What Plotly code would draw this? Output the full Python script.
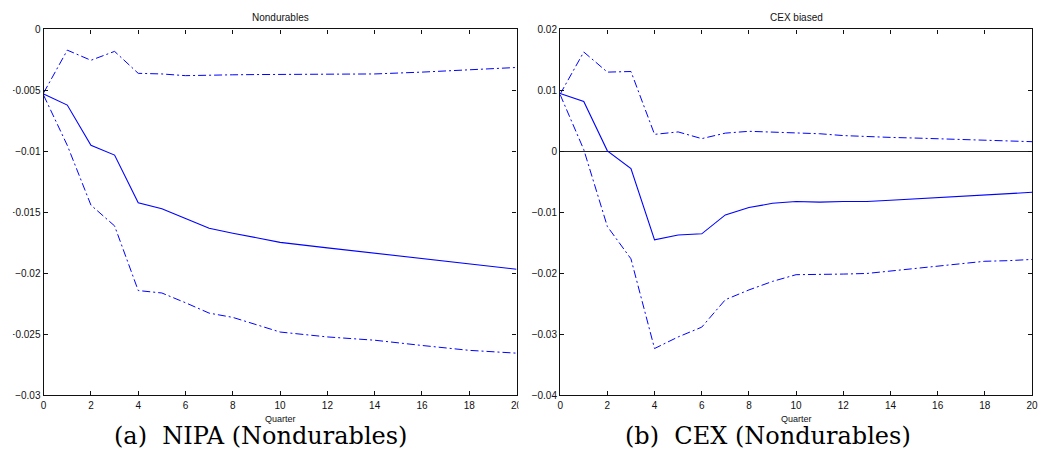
import plotly.graph_objects as go

W, H = 1046, 463

# Panel (a) NIPA (Nondurables)
nipa_q = [0, 1, 2, 3, 4, 5, 6, 7, 8, 9, 10, 12, 14, 16, 18, 20]
nipa_mid = [-0.0053, -0.0062, -0.0095, -0.0103, -0.0142, -0.0147, -0.0155, -0.0163,
            -0.0167, -0.0171, -0.01745, -0.0179, -0.01835, -0.0188, -0.0192, -0.01965]
nipa_hi = [-0.0052, -0.0017, -0.00253, -0.0018, -0.0036, -0.00365, -0.00379, -0.00373,
           -0.00372, -0.0037, -0.00368, -0.00368, -0.00365, -0.0035, -0.00333, -0.00312]
nipa_lo = [-0.0054, -0.0095, -0.0144, -0.0161, -0.0214, -0.0216, -0.0224, -0.02325,
           -0.0236, -0.0242, -0.0248, -0.0252, -0.02547, -0.0259, -0.0263, -0.02653]

# Panel (b) CEX (Nondurables)
cex_q = [0, 1, 2, 3, 4, 5, 6, 7, 8, 9, 10, 11, 12, 13, 14, 15, 16, 17, 18, 19, 20]
cex_mid = [0.0095, 0.0082, 0.0001, -0.0028, -0.0145, -0.0137, -0.0135, -0.0104,
           -0.0092, -0.0085, -0.0082, -0.0083, -0.0082, -0.0082, -0.0080, -0.0078,
           -0.0076, -0.0074, -0.0072, -0.0070, -0.0067]
cex_hi = [0.0094, 0.0163, 0.0130, 0.0131, 0.0028, 0.0032, 0.0021, 0.0030,
          0.0033, 0.0032, 0.0030, 0.0029, 0.0026, 0.0024, 0.0023, 0.0022,
          0.0021, 0.0020, 0.0019, 0.0018, 0.0016]
cex_lo = [0.0093, 0.0003, -0.0123, -0.0176, -0.0323, -0.0304, -0.0288, -0.0243,
          -0.0227, -0.0213, -0.0202, -0.0202, -0.0201, -0.0200, -0.0196, -0.0192,
          -0.0187, -0.0183, -0.0180, -0.0179, -0.0177]

x_ticks = list(range(0, 21, 2))
y1_ticks = [0, -0.005, -0.01, -0.015, -0.02, -0.025, -0.03]
y1_labels = ["0", "\u22120.005", "\u22120.01", "\u22120.015", "\u22120.02", "\u22120.025", "\u22120.03"]
y2_ticks = [0.02, 0.01, 0, -0.01, -0.02, -0.03, -0.04]
y2_labels = ["0.02", "0.01", "0", "\u22120.01", "\u22120.02", "\u22120.03", "\u22120.04"]

panel_titles = ["Nondurables", "CEX biased"]
captions = ["(a)&nbsp;&nbsp;NIPA (Nondurables)", "(b)&nbsp;&nbsp;CEX (Nondurables)"]
xlabel = "Quarter"

BLUE = "#0000ff"
DASHDOT = "8px,3px,2px,3px"

fig = go.Figure()

def add_panel(xs, mid, hi, lo, xa, ya):
    fig.add_trace(go.Scatter(x=xs, y=hi, mode="lines", xaxis=xa, yaxis=ya,
                             line=dict(color=BLUE, width=1, dash=DASHDOT), showlegend=False))
    fig.add_trace(go.Scatter(x=xs, y=lo, mode="lines", xaxis=xa, yaxis=ya,
                             line=dict(color=BLUE, width=1, dash=DASHDOT), showlegend=False))
    fig.add_trace(go.Scatter(x=xs, y=mid, mode="lines", xaxis=xa, yaxis=ya,
                             line=dict(color=BLUE, width=1.1), showlegend=False))

add_panel(nipa_q, nipa_mid, nipa_hi, nipa_lo, "x", "y")
add_panel(cex_q, cex_mid, cex_hi, cex_lo, "x2", "y2")

ydom = [(H - 400) / H, (H - 25) / H]
x1dom = [41 / W, 518 / W]
x2dom = [562 / W, 1038 / W]
caption_cx = [260 / W, 772 / W]

tickfont = dict(family="Liberation Sans, Arial, sans-serif", size=10, color="#111")
axis_common = dict(showline=True, linecolor="#111", linewidth=1.3, mirror="ticks",
                   ticks="inside", ticklen=4, tickwidth=1, tickcolor="#111",
                   showgrid=False, tickfont=tickfont)

fig.update_layout(
    width=W, height=H,
    margin=dict(l=0, r=0, t=0, b=0),
    paper_bgcolor="white", plot_bgcolor="white",
    xaxis=dict(domain=x1dom, range=[0, 20], tickvals=x_ticks, anchor="y",
               zeroline=False, **axis_common),
    yaxis=dict(domain=ydom, range=[-0.03, 0], tickvals=y1_ticks, ticktext=y1_labels,
               anchor="x", zeroline=False, **axis_common),
    xaxis2=dict(domain=x2dom, range=[0, 20], tickvals=x_ticks, anchor="y2",
                zeroline=False, **axis_common),
    yaxis2=dict(domain=ydom, range=[-0.04, 0.02], tickvals=y2_ticks, ticktext=y2_labels,
                anchor="x2", zeroline=True, zerolinecolor="#222", zerolinewidth=1,
                **axis_common),
)

annots = []
for dom, ccx, t, c in [(x1dom, caption_cx[0], panel_titles[0], captions[0]),
                       (x2dom, caption_cx[1], panel_titles[1], captions[1])]:
    cx = (dom[0] + dom[1]) / 2
    annots.append(dict(x=cx, y=1 - 13 / H, xref="paper", yref="paper", text=t, showarrow=False,
                       font=dict(family="Liberation Sans, Arial, sans-serif", size=10, color="#111"),
                       xanchor="center", yanchor="middle"))
    annots.append(dict(x=cx, y=1 - 424 / H, xref="paper", yref="paper", text=xlabel, showarrow=False,
                       font=dict(family="Liberation Sans, Arial, sans-serif", size=9, color="#111"),
                       xanchor="center", yanchor="middle"))
    annots.append(dict(x=ccx, y=1 - 441 / H, xref="paper", yref="paper", text=c, showarrow=False,
                       font=dict(family="DejaVu Serif, serif", size=24, color="#000"),
                       xanchor="center", yanchor="middle"))
fig.update_layout(annotations=annots)

# white strips mimicking the cropped edges of the original side-by-side images
fig.update_layout(shapes=[
    dict(type="rect", xref="paper", yref="paper", x0=0, x1=10 / W, y0=0, y1=1,
         fillcolor="white", line=dict(width=0), layer="above"),
    dict(type="rect", xref="paper", yref="paper", x0=520 / W, x1=528 / W,
         y0=1 - 418 / H, y1=1 - 402 / H, fillcolor="white", line=dict(width=0), layer="above"),
])

fig.write_html("out.html")
